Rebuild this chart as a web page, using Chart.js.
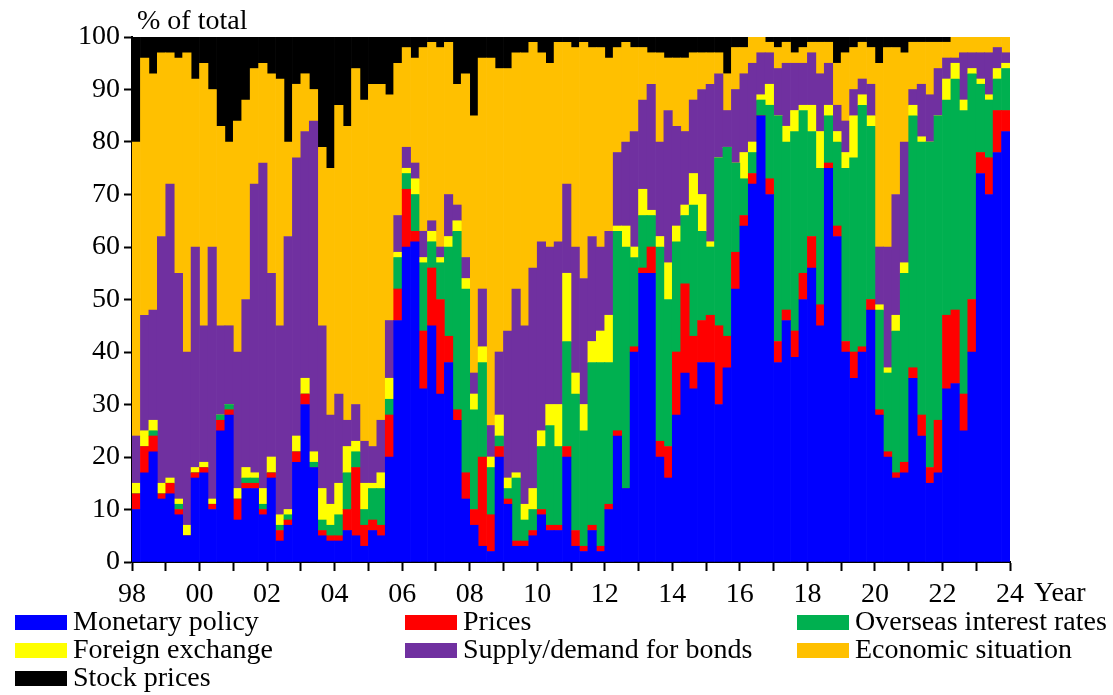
<!DOCTYPE html>
<html>
<head>
<meta charset="utf-8">
<script src="https://cdn.jsdelivr.net/npm/chart.js@4/dist/chart.umd.min.js"></script>
<style>
  body { margin: 0; background: #fff; }
  #wrap { position: relative; width: 1113px; height: 695px; font-family: "Liberation Serif", "Times New Roman", serif; }
  #chart { position: absolute; left: 0; top: 0; }
  .txt { position: absolute; font-size: 28px; line-height: 28px; color: #000; white-space: nowrap; }
  .item { position: absolute; height: 28px; font-size: 28px; line-height: 28px; white-space: nowrap; }
  .item span.box { position: absolute; left: 0; top: 8px; width: 52px; height: 15px; }
  .item span.lab { position: absolute; left: 58px; top: 0; }
</style>
</head>
<body>
<div id="wrap">
  <canvas id="chart" width="1113" height="695"></canvas>
  <div class="txt" style="left:137px; top:6px;">% of total</div>
  <div class="txt" style="left:1034px; top:578px;">Year</div>
  <div id="legend"></div>
</div>
<script>
// quarterly shares, 1998Q1 .. 2023Q4 (4 values per year)
const firstYear = 1998;
const lastYear = 2024;

const monetary = [
  10, 17, 21, 12,  13, 9, 5, 16,  17, 10, 25, 28,  8, 14, 14, 9,  16, 4, 7, 19,
  30, 18, 5, 4,  4, 6, 5, 3,  6, 5, 20, 46,  60, 61, 33, 45,  32, 38, 27, 12,
  7, 3, 2, 20,  11, 3, 3, 5,  9, 6, 6, 20,  3, 2, 6, 2,  10, 24, 14, 40,
  55, 55, 20, 16,  28, 36, 33, 38,  38, 30, 37, 52,  64, 72, 85, 70,  38, 46, 39, 50,
  56, 45, 75, 62,  40, 35, 40, 48,  28, 20, 16, 17,  35, 24, 15, 17,  33, 34, 25, 40,
  74, 70, 78, 82
];
const prices = [
  3, 5, 3, 1,  2, 1, 0, 1,  1, 1, 2, 1,  4, 1, 1, 1,  1, 2, 1, 2,
  2, 0, 1, 1,  1, 4, 13, 4,  2, 2, 8, 6,  11, 2, 11, 11,  18, 5, 2, 5,
  3, 17, 7, 2,  1, 1, 1, 1,  1, 1, 1, 2,  3, 1, 1, 1,  1, 1, 0, 1,
  1, 5, 3, 6,  12, 17, 10, 8,  9, 15, 6, 7,  2, 2, 0, 3,  4, 2, 5, 5,
  6, 4, 1, 2,  2, 5, 1, 2,  1, 1, 1, 2,  2, 4, 3, 10,  14, 14, 7, 10,
  4, 7, 8, 4
];
const overseas = [
  0, 0, 1, 0,  0, 1, 0, 0,  0, 0, 1, 1,  0, 1, 1, 1,  0, 1, 1, 0,
  0, 1, 2, 2,  4, 7, 3, 3,  6, 7, 3, 6,  3, 7, 13, 5,  7, 17, 34, 35,
  19, 18, 9, 2,  2, 12, 4, 4,  12, 19, 15, 20,  26, 22, 31, 35,  27, 38, 46, 17,
  10, 6, 37, 28,  21, 13, 25, 17,  13, 32, 36, 17,  7, 4, 3, 14,  43, 32, 38, 31,
  20, 26, 9, 16,  33, 37, 46, 33,  19, 15, 27, 36,  48, 52, 62, 58,  41, 44, 54, 43,
  13, 11, 6, 8
];
const fx = [
  2, 3, 2, 2,  1, 1, 2, 1,  1, 1, 0, 0,  2, 2, 1, 3,  3, 2, 1, 3,
  3, 2, 6, 4,  6, 5, 2, 5,  1, 3, 4, 1,  1, 3, 1, 2,  1, 2, 2, 2,
  3, 3, 2, 4,  2, 1, 3, 4,  3, 4, 8, 13,  4, 5, 4, 6,  9, 1, 4, 2,
  5, 1, 2, 7,  3, 2, 6, 7,  1, 0, 0, 0,  5, 2, 1, 4,  0, 3, 4, 1,
  5, 7, 2, 2,  3, 8, 2, 2,  1, 1, 3, 2,  2, 1, 0, 0,  4, 3, 2, 1,
  1, 1, 2, 1
];
const supply = [
  9, 22, 21, 47,  56, 43, 33, 42,  26, 48, 17, 15,  26, 32, 55, 62,  35, 36, 52, 53,
  47, 63, 31, 17,  17, 5, 7, 8,  7, 10, 11, 7,  4, 3, 5, 2,  2, 8, 3, 4,
  4, 11, 6, 12,  28, 35, 34, 42,  36, 30, 31, 17,  24, 24, 20, 16,  16, 14, 16, 22,
  17, 24, 18, 29,  19, 14, 14, 20,  30, 16, 7, 14,  15, 15, 8, 6,  9, 12, 9, 8,
  10, 11, 8, 5,  6, 5, 3, 6,  11, 23, 23, 23,  3, 10, 9, 9,  4, 1, 9, 3,
  5, 8, 4, 2
];
const econ = [
  56, 49, 45, 35,  25, 41, 57, 32,  50, 30, 38, 35,  44, 38, 22, 19,  38, 47, 18, 14,
  11, 6, 34, 47,  55, 56, 64, 65,  69, 64, 43, 29,  19, 20, 35, 34,  38, 29, 23, 35,
  49, 44, 70, 54,  50, 45, 52, 43,  36, 35, 38, 27,  38, 45, 36, 38,  33, 20, 19, 16,
  10, 6, 17, 10,  13, 14, 9, 7,  6, 4, 7, 8,  5, 5, 3, 2,  4, 4, 2, 3,
  2, 6, 4, 8,  13, 8, 7, 7,  35, 38, 28, 17,  9, 8, 10, 5,  3, 4, 3, 3,
  3, 3, 2, 3
];
const stock = [
  20, 4, 7, 3,  3, 4, 3, 8,  5, 10, 17, 20,  16, 12, 6, 5,  7, 8, 20, 9,
  7, 10, 21, 25,  13, 17, 6, 12,  9, 9, 11, 5,  2, 4, 2, 1,  2, 1, 9, 7,
  15, 4, 4, 6,  6, 3, 3, 1,  3, 5, 1, 1,  2, 1, 2, 2,  4, 2, 1, 2,
  2, 3, 3, 4,  4, 4, 3, 3,  3, 3, 7, 2,  2, 0, 0, 1,  2, 1, 3, 2,
  1, 1, 1, 5,  3, 2, 1, 2,  5, 2, 2, 3,  1, 1, 1, 1,  1, 0, 0, 0,
  0, 0, 0, 0
];

const series = [
  { label: 'Monetary policy', data: monetary, color: '#0000FF' },
  { label: 'Prices', data: prices, color: '#FF0000' },
  { label: 'Overseas interest rates', data: overseas, color: '#00B050' },
  { label: 'Foreign exchange', data: fx, color: '#FFFF00' },
  { label: 'Supply/demand for bonds', data: supply, color: '#7030A0' },
  { label: 'Economic situation', data: econ, color: '#FFC000' },
  { label: 'Stock prices', data: stock, color: '#000000' },
];

// centre of each quarter on the year axis
const quarterX = monetary.map((v, i) => firstYear + i / 4 + 0.125);

Chart.defaults.font.family = '"Liberation Serif", "Times New Roman", serif';
Chart.defaults.font.size = 28;
Chart.defaults.color = '#000';

const ctx = document.getElementById('chart').getContext('2d');
new Chart(ctx, {
  type: 'bar',
  data: {
    datasets: series.map((s) => ({
      label: s.label,
      data: s.data.map((v, i) => ({ x: quarterX[i], y: v })),
      backgroundColor: s.color,
      borderWidth: 0,
      barPercentage: 1,
      categoryPercentage: 1,
    })),
  },
  options: {
    responsive: false,
    animation: false,
    layout: { padding: { top: 37, right: 103, bottom: 0, left: 0 } },
    plugins: {
      legend: { display: false },
      tooltip: { enabled: false },
    },
    scales: {
      x: {
        type: 'linear',
        stacked: true,
        offset: false,
        min: firstYear,
        max: lastYear,
        border: { color: '#000', width: 2 },
        grid: { display: true, offset: false, drawOnChartArea: false, drawTicks: true, tickLength: 9, tickWidth: 2, tickColor: '#000' },
        ticks: {
          stepSize: 1,
          autoSkip: false,
          maxRotation: 0,
          padding: 7,
          callback: (v) => (v % 2 === 0 ? String(v % 100).padStart(2, '0') : ''),
        },
        afterFit: (scale) => { scale.height = 133; },
      },
      y: {
        stacked: true,
        min: 0,
        max: 100,
        border: { color: '#000', width: 2 },
        grid: { display: true, drawOnChartArea: false, drawTicks: true, tickLength: 8, tickWidth: 2, tickColor: '#000' },
        ticks: { stepSize: 10, padding: 4 },
        afterFit: (scale) => { scale.width = 132; },
      },
    },
  },
});

// legend in three columns, row by row
const legendCols = [15, 405, 797];
const legend = document.getElementById('legend');
series.forEach((s, i) => {
  const item = document.createElement('div');
  item.className = 'item';
  item.style.left = legendCols[i % 3] + 'px';
  item.style.top = (607 + Math.floor(i / 3) * 28) + 'px';
  item.innerHTML = '<span class="box" style="background:' + s.color + '"></span><span class="lab">' + s.label + '</span>';
  legend.appendChild(item);
});
</script>
</body>
</html>
